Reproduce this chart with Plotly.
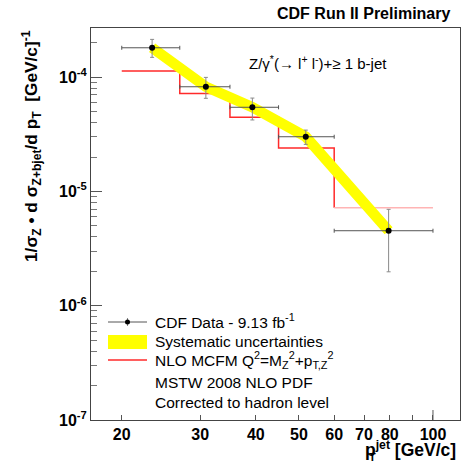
import math
import plotly.graph_objects as go

# ---------------- data ----------------
pt_center = [23.4, 30.9, 39.3, 51.8, 79.5]
pt_lo = [20, 27, 35, 45, 60]
pt_hi = [27, 35, 45, 60, 100]
xsec = [1.807e-4, 8.24e-5, 5.45e-5, 3.01e-5, 4.53e-6]
xsec_up = [2.14e-4, 9.95e-5, 6.56e-5, 3.44e-5, 6.97e-6]
xsec_dn = [1.49e-4, 6.53e-5, 4.22e-5, 2.58e-5, 1.98e-6]

nlo_edges = [20, 27, 35, 45, 60, 100]
nlo_vals = [1.13e-4, 7.21e-5, 4.45e-5, 2.40e-5, 7.19e-6]

x_tick_vals = [20, 30, 40, 50, 60, 70, 80, 90, 100]
x_tick_text = ["20", "30", "40", "50", "60", "70", "80", "", "100"]
y_tick_vals = [1e-7, 1e-6, 1e-5, 1e-4]
y_tick_text = ["10<sup>-7</sup>", "10<sup>-6</sup>", "10<sup>-5</sup>", "10<sup>-4</sup>"]

# ---------------- layout geometry ----------------
W, H = 463, 468
L, R, T, B = 91, 3, 28, 48
PW, PH = W - L - R, H - T - B
XR = [math.log10(17.06), math.log10(115)]
YR = [-7, -3.57]
FONT = "Liberation Sans, Arial, Helvetica, sans-serif"
RED = "#ff2a2a"


def px(xp):
    return (xp - L) / PW


def py(yp):
    return (T + PH - yp) / PH


fig = go.Figure()

# NLO MCFM step histogram (first four bins + drop)
fig.add_trace(go.Scatter(
    x=nlo_edges[:5], y=nlo_vals[:5], mode="lines", line_shape="hv",
    line=dict(color=RED, width=1.5), showlegend=False, hoverinfo="skip"))
# last bin (drawn lighter, as in the reference)
fig.add_trace(go.Scatter(
    x=nlo_edges[4:6], y=[nlo_vals[4], nlo_vals[4]], mode="lines",
    line=dict(color="#ffb4b4", width=1.5), showlegend=False, hoverinfo="skip"))

# systematic band (thick yellow line through the data)
fig.add_trace(go.Scatter(
    x=pt_center, y=xsec, mode="lines",
    line=dict(color="#ffff00", width=10.5), showlegend=False, hoverinfo="skip"))

# data with error bars
fig.add_trace(go.Scatter(
    x=pt_center, y=xsec, mode="markers",
    marker=dict(color="black", size=6),
    error_x=dict(type="data", symmetric=False,
                 array=[h - c for h, c in zip(pt_hi, pt_center)],
                 arrayminus=[c - l for l, c in zip(pt_lo, pt_center)],
                 color="#555555", thickness=1, width=2),
    error_y=dict(type="data", symmetric=False,
                 array=[u - v for u, v in zip(xsec_up, xsec)],
                 arrayminus=[v - d for d, v in zip(xsec_dn, xsec)],
                 color="#8a8a8a", thickness=1, width=2),
    showlegend=False, hoverinfo="skip"))

minor_y = [k * 10 ** e for e in range(-7, -3) for k in range(2, 10)]

fig.update_xaxes(
    type="log", range=XR, tickvals=x_tick_vals, ticktext=x_tick_text,
    ticks="inside", ticklen=5, tickcolor="#555", tickwidth=1,
    showline=True, linecolor="#444", linewidth=1, mirror=True,
    showgrid=False, zeroline=False,
    tickfont=dict(family=FONT, size=16, color="black", weight="bold"))
fig.update_yaxes(
    type="log", range=YR, tickvals=y_tick_vals, ticktext=y_tick_text,
    ticks="inside", ticklen=11, tickcolor="#555", tickwidth=1,
    minor=dict(tickvals=minor_y, ticks="inside", ticklen=6, tickcolor="#777", showgrid=False),
    showline=True, linecolor="#444", linewidth=1, mirror=True,
    showgrid=False, zeroline=False,
    tickfont=dict(family=FONT, size=16, color="black", weight="bold"))

shapes = []
# longer tick at 100
x100 = (2 - XR[0]) / (XR[1] - XR[0])
shapes.append(dict(type="line", xref="paper", yref="paper", x0=x100, x1=x100,
                   y0=0, y1=10 / PH, line=dict(color="#555", width=1)))
# legend symbols
shapes.append(dict(type="line", xref="paper", yref="paper", x0=px(108), x1=px(147),
                   y0=py(322), y1=py(322), line=dict(color="#555", width=1)))
shapes.append(dict(type="line", xref="paper", yref="paper", x0=px(127.5), x1=px(127.5),
                   y0=py(318), y1=py(326), line=dict(color="#888", width=1)))
shapes.append(dict(type="circle", xref="paper", yref="paper", x0=px(125), x1=px(130),
                   y0=py(324.5), y1=py(319.5), fillcolor="black", line=dict(color="black", width=0)))
shapes.append(dict(type="rect", xref="paper", yref="paper", x0=px(108), x1=px(147),
                   y0=py(349), y1=py(335), fillcolor="#ffff00", line=dict(width=0)))
shapes.append(dict(type="line", xref="paper", yref="paper", x0=px(108), x1=px(147),
                   y0=py(360), y1=py(360), line=dict(color=RED, width=1.5)))

ann = []


def text(t, xp, yp, size=15.5, xanchor="left", yanchor="middle", bold=False, angle=0):
    ann.append(dict(text=t, x=px(xp), y=py(yp), xref="paper", yref="paper",
                    xanchor=xanchor, yanchor=yanchor, showarrow=False, textangle=angle,
                    font=dict(family=FONT, size=size, color="black",
                              weight="bold" if bold else "normal")))


text("CDF Run II Preliminary", 452, 13, size=16, xanchor="right", bold=True)
text("Z/γ<sup>*</sup>(→ l<sup>+</sup> l<sup>-</sup>)+≥ 1 b-jet", 247, 62, size=15)
text("CDF Data - 9.13 fb<sup>-1</sup>", 153, 321)
text("Systematic uncertainties", 153, 341)
text("NLO MCFM Q<sup>2</sup>=M<sub>Z</sub><sup>2</sup>+p<sub>T,Z</sub><sup>2</sup>", 153, 360)
text("MSTW 2008 NLO PDF", 153, 382)
text("Corrected to hadron level", 153, 402)
# axis titles
text("1/σ<sub>Z</sub> • d σ<sub>Z+bjet</sub>/d p<sub>T</sub>  [GeV/c]<sup>-1</sup>",
     31, 28, size=17.3, xanchor="center", yanchor="top", bold=True, angle=-90)
text("p<sup>jet</sup> [GeV/c]", 458, 449, size=17.5, xanchor="right", bold=True)
text("T", 372, 457, size=11, xanchor="center", bold=True)

fig.update_layout(
    width=W, height=H, margin=dict(l=L, r=R, t=T, b=B, autoexpand=False),
    paper_bgcolor="white", plot_bgcolor="white",
    font=dict(family=FONT, color="black"),
    shapes=shapes, annotations=ann, showlegend=False)

fig.write_html("out.html", config={"displayModeBar": False, "staticPlot": True},
               post_script="document.body.style.margin='0px';document.body.style.overflow='hidden';")
